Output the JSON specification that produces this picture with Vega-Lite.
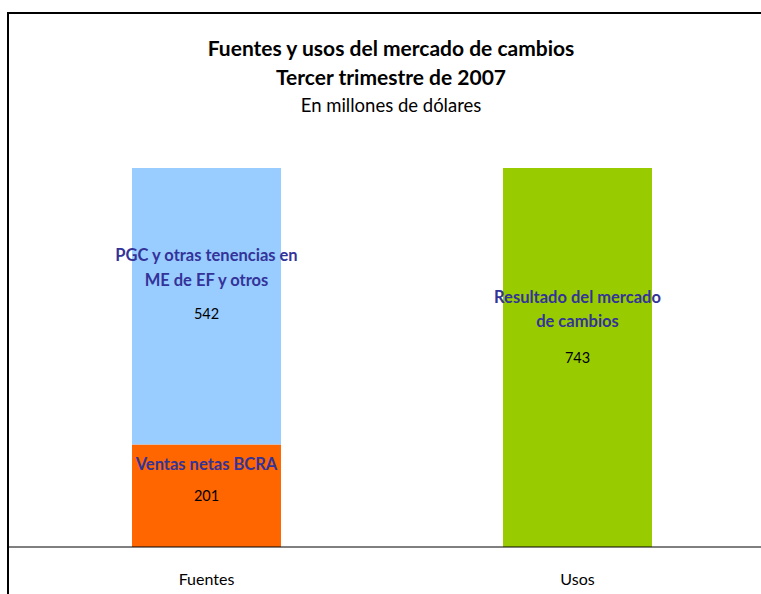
{
  "$schema": "https://vega.github.io/schema/vega-lite/v6.json",
  "autosize": "none",
  "width": 766,
  "height": 590,
  "padding": {"left": 8, "top": 13, "right": -13, "bottom": -9},
  "background": "white",
  "config": {"view": {"stroke": "black", "strokeWidth": 2}, "font": "Lato"},
  "title": {
    "text": ["Fuentes y usos del mercado de cambios", "Tercer trimestre de 2007"],
    "subtitle": "En millones de dólares",
    "fontSize": 21,
    "fontWeight": "bold",
    "lineHeight": 29,
    "subtitleFontSize": 18.5,
    "subtitleFontWeight": "normal",
    "subtitlePadding": 8,
    "offset": -102,
    "anchor": "middle",
    "frame": "group",
    "color": "black",
    "subtitleColor": "black"
  },
  "data": {
    "values": [
      {"cat": "Fuentes", "seg": "Ventas netas BCRA", "ord": 1, "value": 201, "label": "Ventas netas BCRA"},
      {"cat": "Fuentes", "seg": "PGC", "ord": 2, "value": 542, "label": "PGC y otras tenencias en\nME de EF y otros"},
      {"cat": "Usos", "seg": "Resultado", "ord": 1, "value": 743, "label": "Resultado del mercado\nde cambios"}
    ]
  },
  "transform": [
    {"stack": "value", "groupby": ["cat"], "sort": [{"field": "ord", "order": "ascending"}], "as": ["v0", "v1"]}
  ],
  "layer": [
    {
      "mark": {"type": "bar"},
      "encoding": {
        "x": {
          "field": "cat", "type": "nominal", "sort": ["Fuentes", "Usos"],
          "scale": {"range": [124, 644], "paddingInner": 0.5984, "paddingOuter": 0},
          "axis": {"title": null, "domain": false, "ticks": false, "labelAngle": 0, "labelFontSize": 16, "labelPadding": 24, "offset": -56, "labelColor": "black", "labelFont": "Lato"}
        },
        "y": {"field": "v0", "type": "quantitative", "scale": {"domain": [0, 743], "range": [534, 155], "nice": false, "zero": false}, "axis": null},
        "y2": {"field": "v1"},
        "color": {
          "field": "seg", "type": "nominal",
          "scale": {"domain": ["Ventas netas BCRA", "PGC", "Resultado"], "range": ["#FF6600", "#99CCFF", "#99CC00"]},
          "legend": null
        }
      }
    },
    {
      "data": {"values": [{}]},
      "mark": {"type": "rule", "color": "black", "strokeWidth": 1},
      "encoding": {"y": {"datum": 0, "type": "quantitative"}}
    },
    {
      "transform": [{"filter": "datum.seg === 'PGC'"}],
      "mark": {"type": "text", "lineBreak": "\n", "fontWeight": "bold", "fontSize": 16.5, "color": "#333399", "baseline": "middle", "lineHeight": 25, "dy": 88},
      "encoding": {
        "x": {"field": "cat", "type": "nominal"},
        "y": {"field": "v1", "type": "quantitative"},
        "text": {"field": "label"}
      }
    },
    {
      "transform": [{"filter": "datum.seg === 'PGC'"}],
      "mark": {"type": "text", "fontSize": 14.5, "color": "black", "baseline": "middle", "dy": 147},
      "encoding": {
        "x": {"field": "cat", "type": "nominal"},
        "y": {"field": "v1", "type": "quantitative"},
        "text": {"field": "value"}
      }
    },
    {
      "transform": [{"filter": "datum.seg === 'Ventas netas BCRA'"}],
      "mark": {"type": "text", "lineBreak": "\n", "fontWeight": "bold", "fontSize": 16.5, "color": "#333399", "baseline": "middle", "dy": 21},
      "encoding": {
        "x": {"field": "cat", "type": "nominal"},
        "y": {"field": "v1", "type": "quantitative"},
        "text": {"field": "label"}
      }
    },
    {
      "transform": [{"filter": "datum.seg === 'Ventas netas BCRA'"}],
      "mark": {"type": "text", "fontSize": 14.5, "color": "black", "baseline": "middle", "dy": 53},
      "encoding": {
        "x": {"field": "cat", "type": "nominal"},
        "y": {"field": "v1", "type": "quantitative"},
        "text": {"field": "value"}
      }
    },
    {
      "transform": [{"filter": "datum.seg === 'Resultado'"}],
      "mark": {"type": "text", "lineBreak": "\n", "fontWeight": "bold", "fontSize": 16.5, "color": "#333399", "baseline": "middle", "lineHeight": 24, "dy": 130},
      "encoding": {
        "x": {"field": "cat", "type": "nominal"},
        "y": {"field": "v1", "type": "quantitative"},
        "text": {"field": "label"}
      }
    },
    {
      "transform": [{"filter": "datum.seg === 'Resultado'"}],
      "mark": {"type": "text", "fontSize": 14.5, "color": "black", "baseline": "middle", "dy": 191},
      "encoding": {
        "x": {"field": "cat", "type": "nominal"},
        "y": {"field": "v1", "type": "quantitative"},
        "text": {"field": "value"}
      }
    }
  ]
}
